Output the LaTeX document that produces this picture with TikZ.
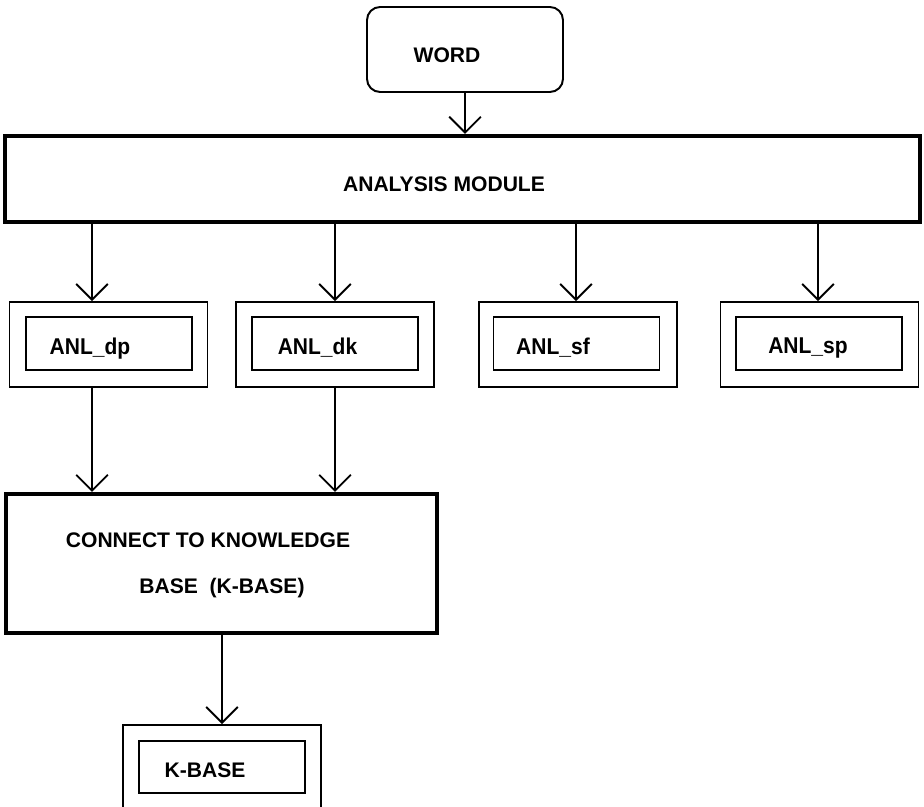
\documentclass[tikz,border=0pt]{standalone}
\usepackage{fontspec}
\setmainfont{Liberation Sans}
\usetikzlibrary{arrows.meta}

\begin{document}
\begin{tikzpicture}[x=0.02cm, y=-0.02cm,
                    line width=1.1pt,
                    font=\fontsize{12}{14}\selectfont\bfseries]
    \tikzstyle{word}=[draw,rounded corners=0.26cm,minimum width=3.92cm,minimum height=1.7cm]
    \tikzstyle{module}=[draw,line width=2.3pt,inner sep=0pt]
    \tikzstyle{outerbox}=[draw,minimum width=3.96cm,minimum height=1.7cm,inner sep=0pt]
    \tikzstyle{innerbox}=[draw,minimum width=3.32cm,minimum height=1.06cm,inner sep=0pt]
    \tikzstyle{txt}=[inner sep=0pt]
    \tikzstyle{anl}=[txt,font=\fontsize{13}{15}\selectfont\bfseries]
    \tikzstyle{arr}=[-{Straight Barb[length=9pt,width=18pt]}]

    \clip (0,0) rectangle (924,807);
    \fill[white] (0,0) rectangle (924,807);

    % input word and the analysis module
    \node[word] (word) at (465,49.5) {};
    \node[txt] (word-t) at (447,55) {WORD};
    \node[module,minimum width=18.3cm,minimum height=1.72cm] (ana) at (462.5,179) {};
    \node[txt] (ana-t) at (444,184) {ANALYSIS MODULE};

    % the four analysers
    \node[outerbox] (dp) at (108.5,344.5) {};
    \node[innerbox] (dp-in) at (109,343.5) {};
    \node[anl] (dp-t) at (90,349) {\scalebox{0.92}[1]{ANL\_dp}};
    \node[outerbox] (dk) at (335,344.5) {};
    \node[innerbox] (dk-in) at (335,343.5) {};
    \node[anl] (dk-t) at (317.5,348) {\scalebox{0.92}[1]{ANL\_dk}};
    \node[outerbox] (sf) at (578,344.5) {};
    \node[innerbox] (sf-in) at (576.5,343.5) {};
    \node[anl] (sf-t) at (553,348) {\scalebox{0.92}[1]{ANL\_sf}};
    \node[outerbox] (sp) at (819.5,344.5) {};
    \node[innerbox] (sp-in) at (819,343.5) {};
    \node[anl] (sp-t) at (808,348) {\scalebox{0.92}[1]{ANL\_sp}};

    % knowledge base
    \node[module,minimum width=8.62cm,minimum height=2.78cm] (conn) at (221.5,563.5) {};
    \node[txt] (conn-t1) at (208,540) {CONNECT TO KNOWLEDGE};
    \node[txt] (conn-t2) at (222,588) {BASE\ \ (K-BASE)};
    \node[outerbox,minimum height=2cm] (kb) at (222,775) {};
    \node[innerbox,minimum height=1.04cm] (kb-in) at (222,767) {};
    \node[txt] (kb-t) at (205,770) {K-BASE};

    % connectors
    \draw[arr] (word.south) -- (ana.north -| word.south);
    \draw[arr] ([xshift=-0.33cm]dp.north |- ana.south) -- ([xshift=-0.33cm]dp.north);
    \draw[arr] (dk.north |- ana.south) -- (dk.north);
    \draw[arr] ([xshift=-0.04cm]sf.north |- ana.south) -- ([xshift=-0.04cm]sf.north);
    \draw[arr] ([xshift=-0.03cm]sp.north |- ana.south) -- ([xshift=-0.03cm]sp.north);
    \draw[arr] ([xshift=-0.33cm]dp.south) -- ([xshift=-0.33cm]dp.south |- conn.north);
    \draw[arr] (dk.south) -- (dk.south |- conn.north);
    \draw[arr] (conn.south -| kb.north) -- (kb.north);
\end{tikzpicture}
\end{document}
